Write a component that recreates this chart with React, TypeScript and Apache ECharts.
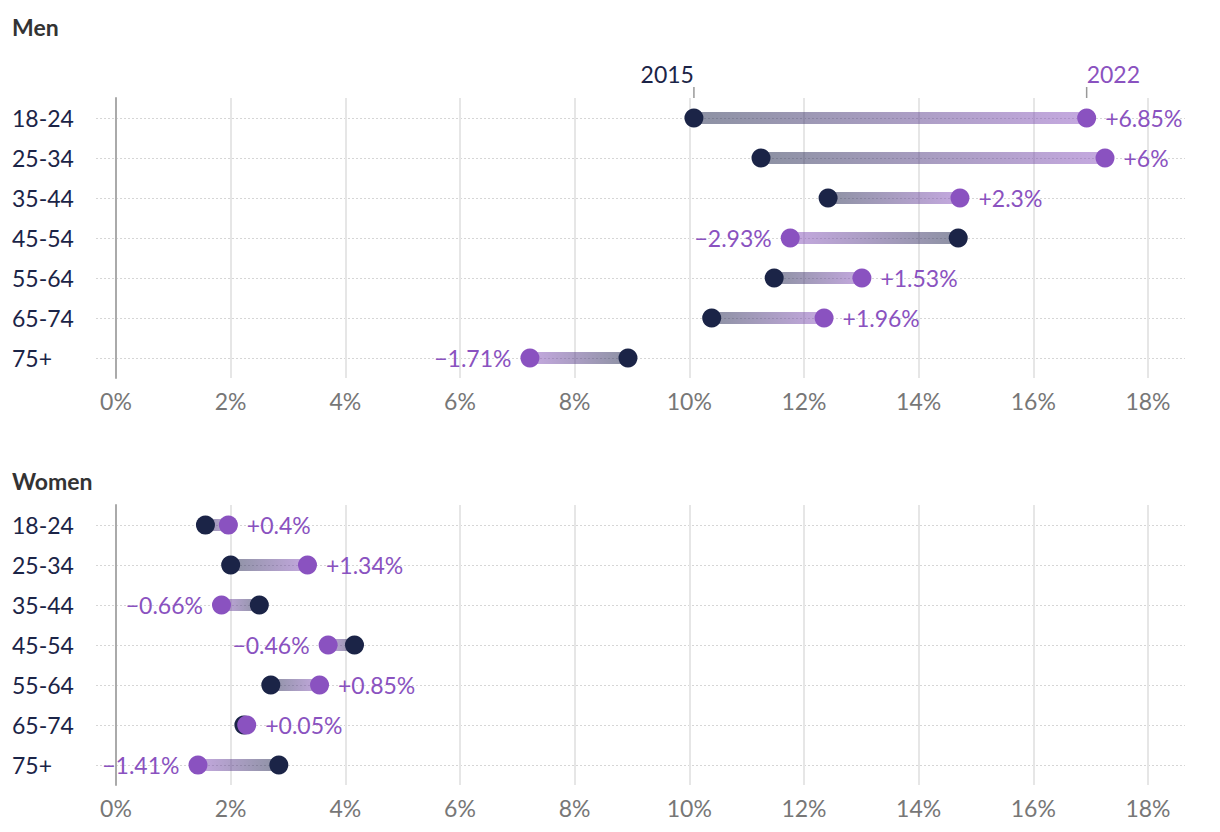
import React, { useEffect, useRef } from "react";
import * as echarts from "echarts";

const categories = ["18-24", "25-34", "35-44", "45-54", "55-64", "65-74", "75+"];
const men2015 = [10.08, 11.25, 12.42, 14.69, 11.48, 10.39, 8.93];
const men2022 = [16.93, 17.25, 14.72, 11.76, 13.01, 12.35, 7.22];
const menChange = [6.85, 6, 2.3, -2.93, 1.53, 1.96, -1.71];
const women2015 = [1.56, 2.0, 2.5, 4.16, 2.7, 2.23, 2.84];
const women2022 = [1.96, 3.34, 1.84, 3.7, 3.55, 2.28, 1.43];
const womenChange = [0.4, 1.34, -0.66, -0.46, 0.85, 0.05, -1.41];
const panelTitles = ["Men", "Women"];
const yearLabels = ["2015", "2022"];

const NAVY = "#1b2447";
const PURPLE = "#8a52c0";
const NAVY_A = "rgba(27,36,71,0.5)";
const PURPLE_A = "rgba(138,82,192,0.5)";
const FONT = "Lato, 'Noto Sans', sans-serif";
const FS = 23;

const fmtChange = (c: number) => (c >= 0 ? "+" : "\u2212") + Math.abs(c) + "%";

export default function App() {
  const ref = useRef<HTMLDivElement>(null);
  useEffect(() => {
    if (!ref.current) return;
    const chart = echarts.init(ref.current, null, { renderer: "svg" });

    const panels = [
      { v1: men2015, v2: men2022, ch: menChange, top: 98 },
      { v1: women2015, v2: women2022, ch: womenChange, top: 505 },
    ];

    const grid: any[] = [];
    const xAxis: any[] = [];
    const yAxis: any[] = [];
    const series: any[] = [];

    panels.forEach((p, k) => {
      const gMain = k * 2;
      const gBg = k * 2 + 1;
      grid.push({ left: 116, right: 72, top: p.top, height: 280 });
      grid.push({ left: 96, right: 35, top: p.top + 20, height: 240 });

      xAxis.push({
        gridIndex: gMain,
        type: "value",
        min: 0,
        max: 18,
        interval: 2,
        axisLine: { show: false },
        axisTick: { show: false },
        splitLine: { show: true, lineStyle: { color: "#e6e6e6", width: 2 } },
        axisLabel: { formatter: "{value}%", color: "#777", fontSize: FS, margin: 11, fontFamily: FONT },
      });
      xAxis.push({ gridIndex: gBg, type: "value", min: 0, max: 1, show: false });

      yAxis.push({
        gridIndex: gMain,
        type: "category",
        data: categories,
        inverse: true,
        axisLine: { show: true, lineStyle: { color: "#aaa", width: 2 } },
        axisTick: { show: false },
        splitLine: { show: false },
        axisLabel: { align: "left", margin: 104, color: NAVY, fontSize: FS, fontFamily: FONT },
      });
      yAxis.push({
        gridIndex: gBg,
        type: "category",
        data: categories,
        inverse: true,
        boundaryGap: false,
        axisLine: { show: false },
        axisTick: { show: false },
        axisLabel: { show: false },
        splitLine: { show: true, lineStyle: { color: "#d6d6d6", type: [2, 2], width: 1 } },
      });

      series.push({
        type: "scatter",
        xAxisIndex: gBg,
        yAxisIndex: gBg,
        data: [],
        silent: true,
      });

      series.push({
        type: "custom",
        xAxisIndex: gMain,
        yAxisIndex: gMain,
        z: 2,
        data: categories.map((_, i) => [p.v1[i], p.v2[i], i]),
        encode: { x: [0, 1], y: 2 },
        renderItem: (params: any, api: any) => {
          const a = api.coord([api.value(0), api.value(2)]);
          const b = api.coord([api.value(1), api.value(2)]);
          const left = Math.min(a[0], b[0]);
          const width = Math.max(Math.abs(b[0] - a[0]), 0.5);
          const forward = b[0] >= a[0];
          const stops = forward
            ? [{ offset: 0, color: NAVY_A }, { offset: 1, color: PURPLE_A }]
            : [{ offset: 0, color: PURPLE_A }, { offset: 1, color: NAVY_A }];
          return {
            type: "rect",
            shape: { x: left, y: a[1] - 6, width, height: 12 },
            style: { fill: new echarts.graphic.LinearGradient(0, 0, 1, 0, stops) },
          };
        },
      });

      series.push({
        type: "scatter",
        xAxisIndex: gMain,
        yAxisIndex: gMain,
        symbolSize: 19,
        itemStyle: { color: NAVY, opacity: 1 },
        z: 3,
        data: p.v1.map((v, i) => [v, i]),
      });

      series.push({
        type: "scatter",
        xAxisIndex: gMain,
        yAxisIndex: gMain,
        symbolSize: 19,
        itemStyle: { color: PURPLE, opacity: 1 },
        z: 4,
        label: {
          show: true,
          color: PURPLE,
          fontSize: FS,
          fontFamily: FONT,
          distance: 9,
          formatter: (prm: any) => fmtChange(p.ch[prm.dataIndex]),
        },
        data: p.v2.map((v, i) => ({
          value: [v, i],
          label: { position: p.ch[i] >= 0 ? "right" : "left" },
        })),
      });

      if (k === 0) {
        series.push({
          type: "custom",
          xAxisIndex: gMain,
          yAxisIndex: gMain,
          z: 5,
          silent: true,
          data: [[p.v1[0], p.v2[0], 0]],
          encode: { x: [0, 1], y: 2 },
          renderItem: (params: any, api: any) => {
            const pts = [
              api.coord([api.value(0), api.value(2)]),
              api.coord([api.value(1), api.value(2)]),
            ];
            const colors = [NAVY, PURPLE];
            const aligns = ["right", "left"];
            const children: any[] = [];
            pts.forEach((pt: number[], j: number) => {
              children.push({
                type: "line",
                shape: { x1: pt[0], y1: pt[1] - 31, x2: pt[0], y2: pt[1] - 20 },
                style: { stroke: "#999", lineWidth: 1.5 },
              });
              children.push({
                type: "text",
                x: pt[0],
                y: pt[1] - 44,
                style: {
                  text: yearLabels[j],
                  fill: colors[j],
                  fontSize: FS,
                  fontFamily: FONT,
                  align: aligns[j],
                  verticalAlign: "middle",
                },
              });
            });
            return { type: "group", children };
          },
        });
      }
    });

    chart.setOption({
      animation: false,
      backgroundColor: "#ffffff",
      textStyle: { fontFamily: FONT },
      title: [
        { text: panelTitles[0], left: 12, top: 15, padding: 0, textStyle: { fontSize: FS, fontWeight: "bold", color: "#333", fontFamily: FONT } },
        { text: panelTitles[1], left: 12, top: 469, padding: 0, textStyle: { fontSize: FS, fontWeight: "bold", color: "#333", fontFamily: FONT } },
      ],
      grid,
      xAxis,
      yAxis,
      series,
    });

    return () => chart.dispose();
  }, []);

  return (
    <div
      ref={ref}
      style={{ position: "fixed", left: 0, top: 0, width: 1220, height: 832, background: "#fff" }}
    />
  );
}
